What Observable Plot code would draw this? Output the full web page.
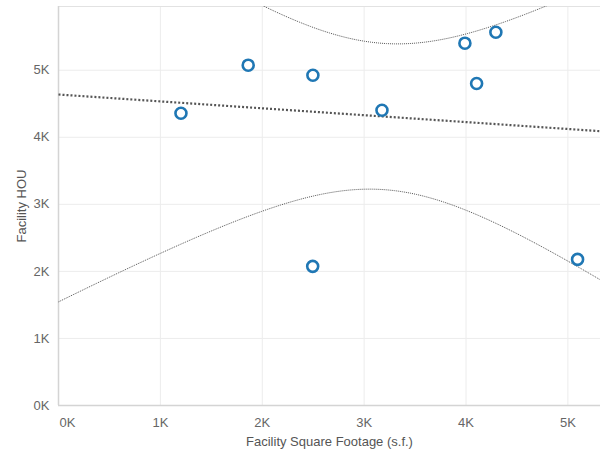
<!DOCTYPE html>
<html>
<head>
<meta charset="utf-8">
<script src="https://cdn.jsdelivr.net/npm/d3@7"></script>
<script src="https://cdn.jsdelivr.net/npm/@observablehq/plot@0.6"></script>
<style>
  html, body { margin: 0; padding: 0; background: #fff; }
  #chart svg { display: block; }
</style>
</head>
<body>
<div id="chart"></div>
<script>
// Data
const sqft = [1202, 1862, 2497, 3175, 3989, 4293, 4104, 2495, 5095];
const hou  = [4358, 5075, 4925, 4403, 5403, 5567, 4801, 2075, 2179];
const xTicks = [0, 1000, 2000, 3000, 4000, 5000];
const yTicks = [0, 1000, 2000, 3000, 4000, 5000];
const xLabel = "Facility Square Footage (s.f.)";
const yLabel = "Facility HOU";

const points = sqft.map((x, i) => ({x, y: hou[i]}));

// Ordinary least squares fit with 95% confidence band of the mean
const n = points.length;
const mx = d3.mean(sqft), my = d3.mean(hou);
const sxx = d3.sum(sqft, x => (x - mx) ** 2);
const sxy = d3.sum(points, p => (p.x - mx) * (p.y - my));
const slope = sxy / sxx;
const intercept = my - slope * mx;
const sse = d3.sum(points, p => (p.y - (intercept + slope * p.x)) ** 2);
const s = Math.sqrt(sse / (n - 2));
const tCrit = 2.3646; // t(0.975, df = n - 2 = 7)

const xDomain = [0, 5320];
const yDomain = [0, 5950];
const fit = d3.range(0, 201).map(i => {
  const x = xDomain[0] + (xDomain[1] - xDomain[0]) * i / 200;
  const yhat = intercept + slope * x;
  const h = tCrit * s * Math.sqrt(1 / n + (x - mx) ** 2 / sxx);
  return {x, yhat, lo: yhat - h, hi: yhat + h};
});

const fmt = d => (d / 1000) + "K";
const bandStyle = {stroke: "#555", strokeWidth: 1, strokeDasharray: "1,1", strokeLinecap: "butt", clip: true};

const chart = Plot.plot({
  width: 600,
  height: 449,
  marginLeft: 58,
  marginRight: 0,
  marginTop: 6,
  marginBottom: 44,
  style: {fontFamily: "'Liberation Sans', Arial, sans-serif", fontSize: "13px", color: "#666", background: "#fff"},
  x: {domain: xDomain, ticks: xTicks, tickFormat: fmt},
  y: {domain: yDomain, ticks: yTicks, tickFormat: fmt},
  marks: [
    Plot.gridX(xTicks, {stroke: "#ececec", strokeOpacity: 1, strokeWidth: 1}),
    Plot.gridY(yTicks, {stroke: "#ececec", strokeOpacity: 1, strokeWidth: 1}),
    Plot.ruleY([yDomain[1]], {stroke: "#e2e2e2"}),
    Plot.ruleX([0], {stroke: "#d4d4d4", strokeWidth: 1.5}),
    Plot.ruleY([0], {stroke: "#d4d4d4", strokeWidth: 1.5}),
    Plot.line(fit, {x: "x", y: "lo", ...bandStyle}),
    Plot.line(fit, {x: "x", y: "hi", ...bandStyle}),
    Plot.line(fit.filter((d, i) => i % 20 === 0), {x: "x", y: "yhat", stroke: "#555", strokeWidth: 2.2, strokeDasharray: "2,2", strokeLinecap: "butt", clip: true}),
    Plot.dot(points, {x: "x", y: "y", r: 5.5, stroke: "#1f77b4", strokeWidth: 2.6, fill: "#fff"}),
    Plot.axisX(xTicks.slice(0, 1), {tickSize: 0, tickPadding: 12, tickFormat: fmt, textAnchor: "start", dx: 1, fill: "#666", fontSize: 13, label: null}),
    Plot.axisX(xTicks.slice(1), {tickSize: 0, tickPadding: 12, tickFormat: fmt, fill: "#666", fontSize: 13, label: null}),
    Plot.axisY(yTicks, {tickSize: 0, tickPadding: 9, tickFormat: fmt, fill: "#666", fontSize: 13, label: null}),
    Plot.text([xLabel], {frameAnchor: "bottom", textAnchor: "middle", dy: 40, fill: "#555", fontSize: 13}),
    Plot.text([yLabel], {frameAnchor: "left", textAnchor: "middle", dx: -37, rotate: -90, fill: "#555", fontSize: 13})
  ]
});
document.getElementById("chart").appendChild(chart);
</script>
</body>
</html>
